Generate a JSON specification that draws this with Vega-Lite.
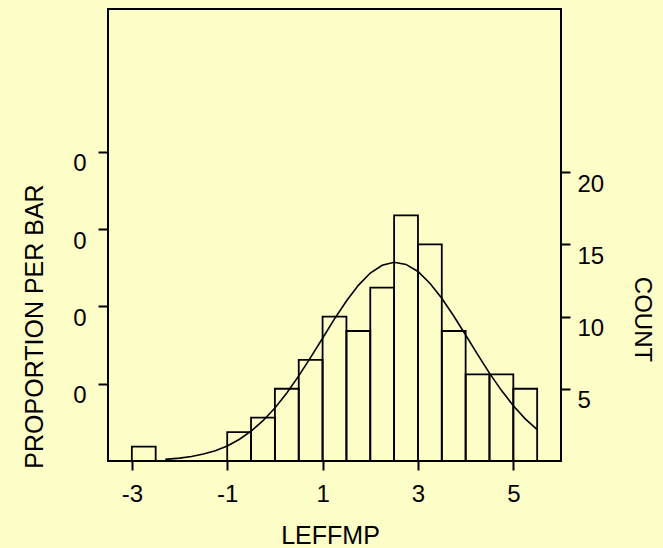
{
  "$schema": "https://vega.github.io/schema/vega-lite/v6.json",
  "width": 453,
  "height": 452,
  "autosize": "none",
  "padding": {"left": 108, "top": 9, "right": 102, "bottom": 87},
  "background": "#fdfdc8",
  "config": {
    "view": {"stroke": "black", "strokeWidth": 2},
    "font": "Liberation Sans",
    "axis": {
      "domain": false,
      "grid": false,
      "tickColor": "black",
      "tickWidth": 2,
      "labelColor": "black",
      "labelFont": "Liberation Sans",
      "labelFontSize": 24,
      "titleColor": "black",
      "titleFont": "Liberation Sans",
      "titleFontWeight": "normal"
    }
  },
  "datasets": {
    "bars": [
      {"start": -3, "end": -2.5, "count": 1, "proportion": 0.0093},
      {"start": -1, "end": -0.5, "count": 2, "proportion": 0.0187},
      {"start": -0.5, "end": 0, "count": 3, "proportion": 0.028},
      {"start": 0, "end": 0.5, "count": 5, "proportion": 0.0467},
      {"start": 0.5, "end": 1, "count": 7, "proportion": 0.0654},
      {"start": 1, "end": 1.5, "count": 10, "proportion": 0.0935},
      {"start": 1.5, "end": 2, "count": 9, "proportion": 0.0841},
      {"start": 2, "end": 2.5, "count": 12, "proportion": 0.1121},
      {"start": 2.5, "end": 3, "count": 17, "proportion": 0.1589},
      {"start": 3, "end": 3.5, "count": 15, "proportion": 0.1402},
      {"start": 3.5, "end": 4, "count": 9, "proportion": 0.0841},
      {"start": 4, "end": 4.5, "count": 6, "proportion": 0.0561},
      {"start": 4.5, "end": 5, "count": 6, "proportion": 0.0561},
      {"start": 5, "end": 5.5, "count": 5, "proportion": 0.0467}
    ],
    "curve": [
      {"x": -2.3, "count": 0.11},
      {"x": -2, "count": 0.2},
      {"x": -1.75, "count": 0.31},
      {"x": -1.5, "count": 0.48},
      {"x": -1.25, "count": 0.71},
      {"x": -1, "count": 1.04},
      {"x": -0.75, "count": 1.49},
      {"x": -0.5, "count": 2.06},
      {"x": -0.25, "count": 2.79},
      {"x": 0, "count": 3.67},
      {"x": 0.25, "count": 4.71},
      {"x": 0.5, "count": 5.89},
      {"x": 0.75, "count": 7.17},
      {"x": 1, "count": 8.5},
      {"x": 1.25, "count": 9.84},
      {"x": 1.5, "count": 11.08},
      {"x": 1.75, "count": 12.16},
      {"x": 2, "count": 13.01},
      {"x": 2.25, "count": 13.55},
      {"x": 2.5, "count": 13.76},
      {"x": 2.75, "count": 13.61},
      {"x": 3, "count": 13.12},
      {"x": 3.25, "count": 12.31},
      {"x": 3.5, "count": 11.27},
      {"x": 3.75, "count": 10.04},
      {"x": 4, "count": 8.72},
      {"x": 4.25, "count": 7.38},
      {"x": 4.5, "count": 6.08},
      {"x": 4.75, "count": 4.89},
      {"x": 5, "count": 3.83},
      {"x": 5.25, "count": 2.92},
      {"x": 5.5, "count": 2.17}
    ]
  },
  "layer": [
    {
      "layer": [
        {
          "data": {"name": "bars"},
          "mark": {"type": "bar", "fill": "transparent", "stroke": "black", "strokeWidth": 1.8},
          "encoding": {
            "x": {
              "field": "start",
              "type": "quantitative",
              "scale": {"domain": [-3.5, 6], "nice": false, "zero": false},
              "axis": {
                "values": [-3, -1, 1, 3, 5],
                "labelExpr": "'' + datum.value",
                "tickSize": 9,
                "labelPadding": 12,
                "labelFlush": false,
                "title": "LEFFMP",
                "titleFontSize": 25,
                "titleX": 222,
                "titleY": 82,
                "titleAlign": "center",
                "titleBaseline": "alphabetic"
              }
            },
            "x2": {"field": "end"},
            "y": {
              "field": "count",
              "type": "quantitative",
              "scale": {"domain": [0, 31.29], "nice": false},
              "axis": {
                "orient": "right",
                "values": [5, 10, 15, 20],
                "tickSize": 9,
                "labelPadding": 7,
                "labelBaseline": "top",
                "labelAlign": "left",
                "title": "COUNT",
                "titleFontSize": 24,
                "titleAngle": 90,
                "titleX": 73,
                "titleY": 310,
                "titleAlign": "center",
                "titleBaseline": "alphabetic"
              }
            },
            "y2": {"datum": 0}
          }
        },
        {
          "data": {"name": "curve"},
          "mark": {"type": "line", "color": "black", "strokeWidth": 1.6},
          "encoding": {
            "x": {"field": "x", "type": "quantitative"},
            "y": {"field": "count", "type": "quantitative"}
          }
        }
      ]
    },
    {
      "data": {"name": "bars"},
      "mark": {"type": "point", "opacity": 0},
      "encoding": {
        "y": {
          "field": "proportion",
          "type": "quantitative",
          "scale": {"domain": [0, 0.2924], "nice": false},
          "axis": {
            "orient": "left",
            "values": [0.05, 0.1, 0.15, 0.2],
            "format": ".0f",
            "tickSize": 10,
            "labelPadding": 12,
            "labelBaseline": "top",
            "title": "PROPORTION PER BAR",
            "titleFontSize": 25,
            "titleAngle": 270,
            "titleX": -66,
            "titleY": 317,
            "titleAlign": "center",
            "titleBaseline": "alphabetic"
          }
        }
      }
    }
  ],
  "resolve": {"scale": {"y": "independent"}}
}
